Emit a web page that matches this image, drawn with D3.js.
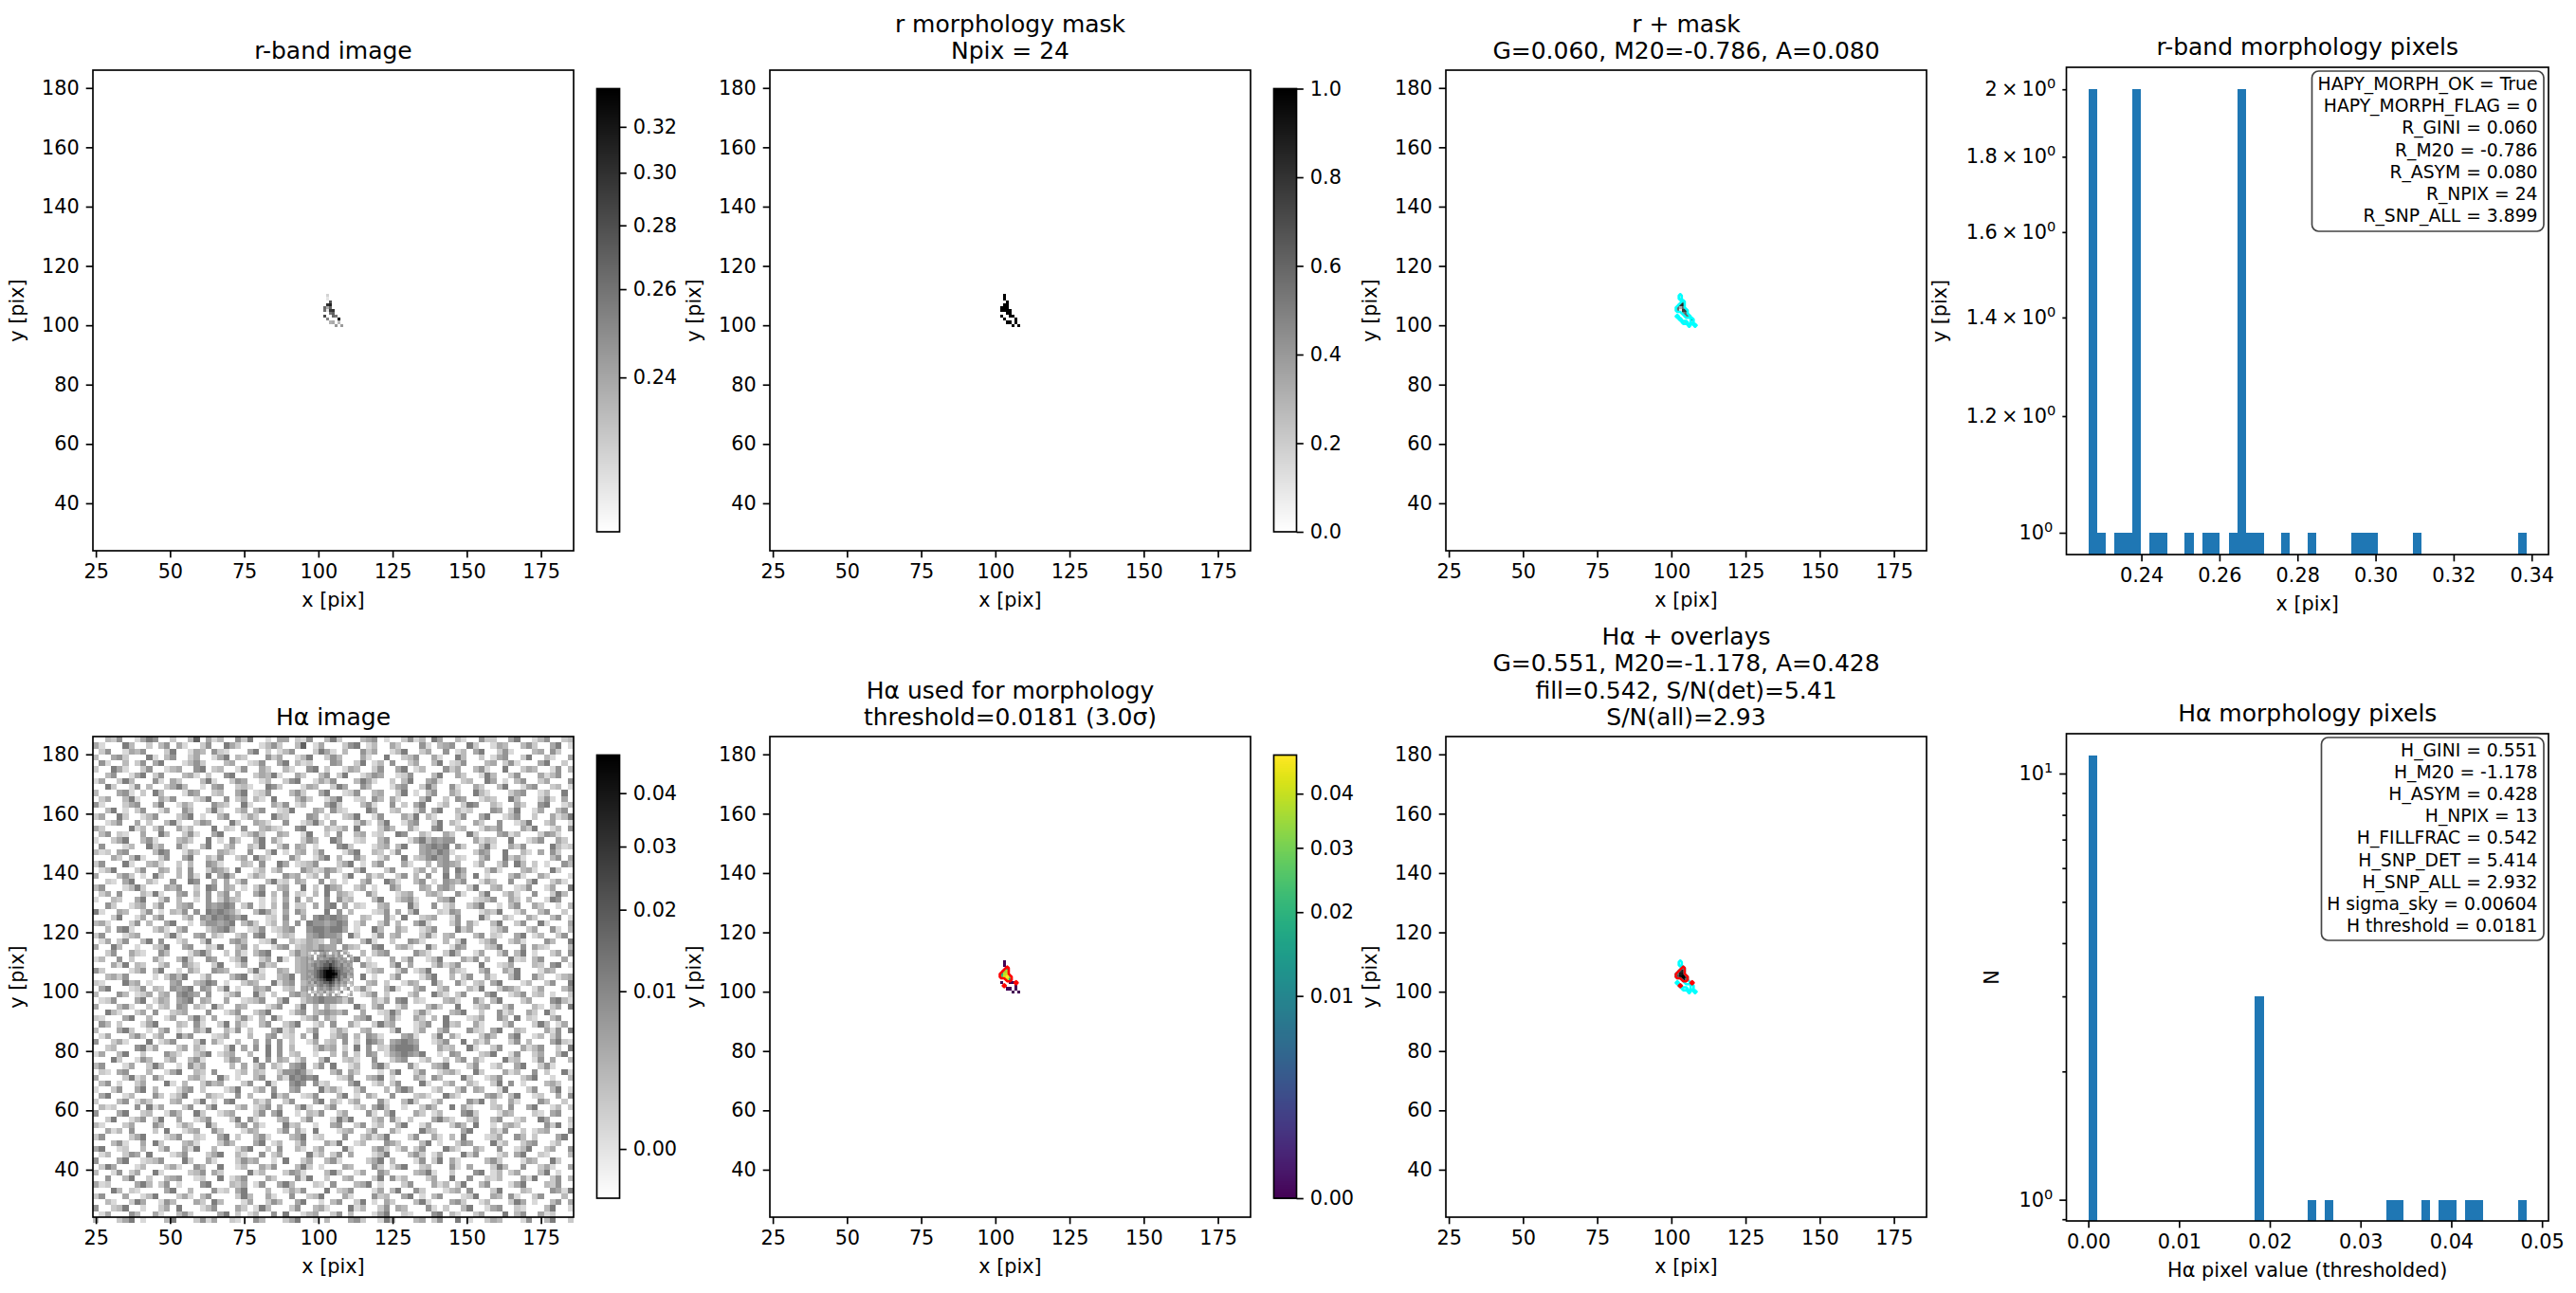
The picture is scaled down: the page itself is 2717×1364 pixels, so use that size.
<!DOCTYPE html>
<html>
<head>
<meta charset="utf-8">
<script src="https://cdn.jsdelivr.net/npm/d3@7"></script>
<style>
    body { margin: 0; background: #fff; }
    text { font-family: "DejaVu Sans"; fill: #000; }
</style>
</head>
<body>
<svg id="fig" width="2717" height="1364"></svg>
<script>
// Data ------------------------------------------------------------------------------------

const imageXTicks = [25, 50, 75, 100, 125, 150, 175];
const imageYTicks = [40, 60, 80, 100, 120, 140, 160, 180];
const imageLimits = [24, 186];

// pixels of the r morphology mask
const maskX = [103, 103, 104, 103, 104, 102, 103, 104, 102, 103, 104, 105, 104, 105, 102, 105, 106, 103, 107, 104, 105, 107, 106, 108];
const maskY = [110, 109, 108, 107, 107, 106, 106, 106, 105, 105, 105, 105, 104, 104, 103, 103, 103, 102, 102, 101, 101, 101, 100, 100];
const rValues = [0.2298, 0.2275, 0.2769, 0.2994, 0.3106, 0.2657, 0.2388, 0.268, 0.2635, 0.2275, 0.2949, 0.2971, 0.259, 0.2702, 0.2836, 0.2657, 0.2568, 0.2523, 0.3375, 0.2365, 0.2388, 0.2343, 0.2455, 0.2433];
const hValues = [0, 0, 0.019, 0.0345, 0.0375, 0.019, 0.0395, 0.0425, 0.0247, 0.0435, 0.048, 0.0335, 0.0405, 0.019, 0, 0, 0, 0.0265, 0, 0, 0, 0, 0, 0];
// above threshold but outside the r mask
const hExtraX = [107];
const hExtraY = [103];

const rHistCounts = [2, 1, 0, 1, 1, 2, 0, 1, 1, 0, 0, 1, 0, 1, 1, 0, 1, 2, 1, 1, 0, 0, 1, 0, 0, 1, 0, 0, 0, 0, 1, 1, 1, 0, 0, 0, 0, 1, 0, 0, 0, 0, 0, 0, 0, 0, 0, 0, 0, 1];
const rHistRange = [0.2264, 0.3387];
const hHistCounts = [11, 0, 0, 0, 0, 0, 0, 0, 0, 0, 0, 0, 0, 0, 0, 0, 0, 0, 0, 3, 0, 0, 0, 0, 0, 1, 0, 1, 0, 0, 0, 0, 0, 0, 1, 1, 0, 0, 1, 0, 1, 1, 0, 1, 1, 0, 0, 0, 0, 1];
const hHistRange = [0, 0.0483];

const rStats = ["HAPY_MORPH_OK = True", "HAPY_MORPH_FLAG = 0", "R_GINI = 0.060", "R_M20 = -0.786", "R_ASYM = 0.080", "R_NPIX = 24", "R_SNP_ALL = 3.899"];
const hStats = ["H_GINI = 0.551", "H_M20 = -1.178", "H_ASYM = 0.428", "H_NPIX = 13", "H_FILLFRAC = 0.542", "H_SNP_DET = 5.414", "H_SNP_ALL = 2.932", "H sigma_sky = 0.00604", "H threshold = 0.0181"];

const rNorm = [0.2264, 0.3385];
const hNorm = [-0.0006, 0.048];
const rBarTicks = [0.24, 0.26, 0.28, 0.30, 0.32];
const hBarTicks = [0, 0.01, 0.02, 0.03, 0.04];
const maskBarTicks = [0, 0.2, 0.4, 0.6, 0.8, 1];

// Hα image brightness levels used by the two digit grids below
const hLevels = [-0.002, 0.0005, 0.0015, 0.003, 0.005, 0.008, 0.012, 0.018, 0.027, 0.04, 0.048];

// Hα image: hand estimate of the noise in cells of 2 pix, top row first, groups of 10 cells.
// Only the blotches and the overall texture follow the picture, single cells are not exact readings.
const hCoarseRows = [
"0032500146 5002003704 1300526001 0440215003 6200034501 0025130640 0310052200 4600135002 3",
"4100063002 0350410025 0064200013 5200370140 0025601300 4200051034 5006200143 0035200460 1",
"0250014350 0026001430 5210004602 0135000264 1030052400 1360024005 0130460025 1000340520 0",
"3004520006 1035002400 1460320005 2400136002 5300041006 0023500410 0630020145 0026003100 4",
"0510030250 4600013520 0034001250 0460312000 5400260130 5002400360 1250003402 5100046002 0",
"2006410025 0013400560 2300150042 0031005602 0014300250 0460130005 2400351006 0024300150 3",
"0035001460 2500034102 0056000243 6100420035 0260013540 0125000360 0420016300 2500041350 0",
"1400263000 5104200036 1002540013 0025600142 5000364100 2036004510 0023006401 0350024000 5",
"0062001503 0024630010 4500231006 5200014300 2640053000 1450026300 5100420036 0014500230 1",
"3000451020 6300015400 2300460125 0003520046 0012500340 0260103500 4200631000 2450013006 0",
"0240036100 0425000136 0050240310 6000352001 4600120530 4100036002 0540013200 6300025104 0",
"5100024500 3600142000 5320061000 4250130004 6200035100 5020460013 0026500310 0420056001 3",
"0036010250 0140053002 6100240350 0126000430 5210006400 2300150460 0312000540 2600140035 0",
"2400620013 5000246010 0350014200 6320005401 0023600150 0042603100 0250046001 3500200413 6",
"0013500402 0036100254 0006200431 0050013620 4000251036 0014500260 3100420050 0136002400 1",
"4200006130 2500413000 6021050034 2100560003 1240600025 3004100560 0230014350 0042600130 5",
"0350210040 0630025100 4600013520 0430016002 0500340120 0650031004 2006200045 1300025410 0",
"1002460035 1000342006 0105200360 4100025300 6400120035 0001463545 5000413200 6001350042 0",
"0500013006 2400510036 0024003160 0250430100 0562000134 0360045656 0520036100 4250000631 2",
"3120450000 3650014200 0431005002 6010340250 0014600320 1500045465 1000254006 0031040520 0",
"0004203610 0250046003 1500240631 0005200146 0300520014 0060235645 0210035006 2410000350 4",
"2500061003 4100203005 4100032050 0640123500 0246010350 0041003045 4300140025 0630201005 3",
"0136000250 0430305002 5420600130 2400053125 4100360002 5000240305 0640002510 0034100620 0",
"4000352010 6200305106 0463001420 0053401305 0026004130 0250305006 0530601000 3510042000 1",
"0021046003 1005006500 4040250003 6120430050 2010035006 4100350105 4350014200 5003600241 0",
"3500013620 0043500206 5043010250 0340060206 4300240100 5300043045 3002600340 0125001400 6",
"0240500031 6100450305 0350300460 3050210306 0431005200 0134003420 0510036002 4100500263 0",
"1003200460 0250300105 0253200010 2040503005 0523000360 0245100034 6000123500 4203001650 0",
"0052001340 2500345005 4565025010 3050220405 6040210034 0006200501 3002460010 3500420010 3",
"6100430025 0103250506 5654100364 1040530006 0503000125 0403600021 5400013260 0140035002 0",
"0002600140 3500024054 6565460001 2050040565 6540032005 1060023400 1500062003 1004200350 1",
"3410002503 0046001035 5456035201 3040506554 5650140025 0300461000 2504100360 0250061000 4",
"0030561000 2410350002 4563001250 1245005665 6640100630 0420013500 0624000135 0002400510 3",
"2500013400 0026100450 3100240560 0132004565 5406200150 3400025103 4000350210 0460130025 0",
"0140250036 0500130026 0004530012 6003124320 4500036100 2005410003 0260013500 2410005300 6",
"4006300100 2360045002 1600350200 1450234354 4053200560 0341006200 1540002360 0050421000 3",
"0025004210 0530001463 0020410356 0002534565 4530030245 0000531002 6300140025 0360100240 5",
"1300502000 4100362005 4001360024 0610345456 5403601000 4025001360 0042503000 6120350004 0",
"0004160320 0240053100 2600140052 3000345545 5450052100 3604000251 3500060012 4000320560 1",
"5200001350 3600104200 5430002610 0430345005 0564001340 0250136000 4210035004 2600014300 0",
"0034250000 1025360014 0003560120 0346045005 0545060100 2500014600 3025004100 3600520013 4",
"2100063401 0004500346 5010024300 6145034505 0654003402 0014300620 0510230460 0013002500 6",
"0460001250 3205456054 0260100435 0023045405 5640251003 6100350024 0003160025 4200140003 5",
"3000530124 0340565405 0013500620 2004534565 5640013502 0002400631 0250004600 1350230100 2",
"0125000460 1430456043 0040012350 0360024565 5425000314 0560210003 4100520360 0024000563 1",
"4000351002 0230540310 6200430001 3500260304 1000620350 0140003520 0600134002 5000310240 6",
"0063100240 5002340005 0013500246 0001450345 4350040012 6300251000 3460020051 3004206100 0",
"2100046003 0014003620 4000251030 6200013504 2000346002 5100420306 0001240053 0602100350 0",
"0530200014 6000320510 0260410035 0024600130 5004100263 4000135006 2300410002 5000263014 0",
"3000462001 0350100426 0031502000 4613002500 1420034000 2600140035 0005210460 0320004150 6",
"0140003520 2400635000 1240003004 5012040600 2450305410 0045100260 4100025300 4600130250 0",
"5002410006 0135000260 4100300405 0502001402 3050206530 4565400135 0060314000 2503000462 1",
"0023000561 4000240310 0026040506 0503000253 4020605021 5666500042 3006100250 0041350020 6",
"1400360020 0053100246 0134003006 0502300100 3040205401 4565460010 5400023600 1500240036 0",
"0006200153 0024003510 0025400605 0430140036 0023100500 2450013002 0350410006 2300150400 3",
"3500014002 6300105240 0003040250 3104560250 6001300462 0005100346 0002500130 0460025100 0",
"0210450003 0014600320 5000130320 0255651000 3504200010 3600250013 4100620004 1300502006 1",
"4000026130 5200003410 0620100350 0416565600 0125003460 1000420530 0062001350 0024600100 3",
"0350100240 0061030025 3400025006 1005650512 0004600130 2500061002 4003100260 5010003420 0",
"1002500460 3000145020 0013600240 5004500062 4100250003 0464000130 0250430016 0002500360 1",
"0460013000 5201360004 2100503000 6240012500 0360104200 5000231006 3100004520 3600120040 5",
"2000350142 0003400260 1056000314 0025000460 3102400051 0036200140 0005360200 4100053002 0",
"0312000506 1400025003 6000240135 0400361002 5000130462 0010025300 6041000230 5004600130 2",
"5000460023 0015300620 0134000250 4600103250 0240005103 6000420130 0056200014 3000210450 0",
"0026001350 2600400135 0002605100 0340025000 1636000240 5102000463 1002400350 0130064000 2",
"3100024000 5300142006 2000350410 0062300100 4500250130 0360014000 2530600103 4200005260 1",
"0041305000 2060013400 5200014300 0250410600 0134002500 4100063200 0046000315 0020134000 6",
"2500002460 0013500210 0460200351 0003460120 0050024136 0002500410 3060001240 0530200046 0",
"0003510040 6200034100 0253000460 1300250004 2600130005 4200036010 0254000613 0024500130 0",
"4600120030 0250041600 3000146002 0500310240 0061000352 0140250006 3100420050 0136002400 5",
"0130025406 0001350002 4600310050 2400006130 2504000136 0003520140 0062500013 0460021000 3",
"5000460012 3500062004 1000253400 1060024003 5100002460 3000150260 4100003520 0014300620 0",
"0264000130 0024100530 0600130042 5000362010 0043000520 1460023000 5104000263 0050024100 4",
"3001502400 6100002350 4200006130 0025410003 6200140053 0000346100 2000560130 2400036010 0",
"0050036002 0034500120 0601350004 2000516002 0034000260 5130002400 6005002130 0041600250 3",
"4120000463 0250100056 0003240150 0463000210 5000346010 0025000413 0260035000 1460003250 0",
"0006302100 0046003000 5120460003 0014250006 0235000140 3600520001 3405000260 0032000541 6",
"2500040013 6000241035 0000263004 1005002360 0041000523 0046010350 0012600430 5100250003 0",
"0031002640 0153000420 6300014002 5300460010 3500260104 2000361000 4520013000 2640100350 4",
"5002360010 0240600013 5000420163 0002500341 0006130025 0430005102 0036001450 0210003600 1",
"0140005300 4100352000 0460201300 5060013400 2503000146 0021000560 3100240006 0350041200 0",
"3000246010 0036000251 4002100530 0024600103 0004520016 3000340250 0601002430 0015003600 2"
];

// Hα image around the core at native resolution: x 97..111, y 113..99, top row first
const hCoreX0 = 97;
const hCoreY0 = 113;
const hCoreRows = [
"203045304350420",
"340456445354053",
"450545566545404",
"345566767654545",
"456567787656454",
"446678898766545",
"556789aa9876554",
"456789aaa976645",
"546789aa9875634",
"455678998675440",
"536567787564523",
"443565676453402",
"350454564340250",
"032435243015003",
"405240350420014"
];

// Layout ------------------------------------------------------------------------------------

const svg = d3.select("#fig");
const tickFont = 20.8, titleFont = 25, boxFont = 18.75;
const tickLen = 7.3, minorLen = 4.2, lineW = 1.67;
const imgSize = 507;
const colLeft = [98, 812, 1525];
const rowTop = [74, 777];
const histLeft = 2179.5, histW = 508.5, histH = 514;
const histTop = [71, 774];

const grayR = t => d3.interpolateRgb("#ffffff", "#000000")(t);

// Helpers -----------------------------------------------------------------------------------

// sqrt stretch between vmin and vmax, value comes in shifted by vmin
function stretch(norm) {
    return d3.scaleSqrt().domain([0, norm[1] - norm[0]]).range([0, 1]).clamp(true);
}

function styleAxis(g) {
    g.select(".domain").remove();
    g.selectAll(".tick line").attr("stroke", "#000").attr("stroke-width", lineW);
    g.selectAll(".tick text").style("font-size", tickFont + "px").attr("font-family", "DejaVu Sans");
}

function frame(g, w, h) {
    g.append("rect").attr("width", w).attr("height", h)
        .attr("fill", "none").attr("stroke", "#000").attr("stroke-width", lineW);
}

function title(cx, baseline, lines) {
    lines.forEach(function (line, i) {
        svg.append("text").attr("x", cx).attr("y", baseline - (lines.length - 1 - i) * 28.4)
            .attr("text-anchor", "middle").style("font-size", titleFont + "px").text(line);
    });
}

function labels(g, w, h, xLabel, yLabel, yLabelX) {
    g.append("text").attr("x", w / 2).attr("y", h + 58.5).attr("text-anchor", "middle")
        .style("font-size", tickFont + "px").text(xLabel);
    g.append("text").attr("transform", "translate(" + yLabelX + "," + (h / 2) + ") rotate(-90)")
        .attr("text-anchor", "middle").style("font-size", tickFont + "px").text(yLabel);
}

function imageAxes(left, top, titleLines) {
    const g = svg.append("g").attr("transform", "translate(" + left + "," + top + ")");
    const x = d3.scaleLinear().domain(imageLimits).range([0, imgSize]);
    const y = d3.scaleLinear().domain(imageLimits).range([imgSize, 0]);
    title(left + imgSize / 2, top - 12, titleLines);
    return { g: g, x: x, y: y };
}

function finishImageAxes(ax) {
    ax.g.append("g").attr("transform", "translate(0," + imgSize + ")")
        .call(d3.axisBottom(ax.x).tickValues(imageXTicks).tickSize(tickLen).tickPadding(7).tickFormat(d3.format("d")))
        .call(styleAxis);
    ax.g.append("g")
        .call(d3.axisLeft(ax.y).tickValues(imageYTicks).tickSize(tickLen).tickPadding(7).tickFormat(d3.format("d")))
        .call(styleAxis);
    frame(ax.g, imgSize, imgSize);
    labels(ax.g, imgSize, imgSize, "x [pix]", "y [pix]", -73);
}

function drawCells(ax, cells, width, color) {
    ax.g.append("g").attr("shape-rendering", "crispEdges")
        .selectAll("rect").data(cells).enter().append("rect")
        .attr("x", d => ax.x(d.x - 0.5))
        .attr("y", d => ax.y(d.y + width - 0.5))
        .attr("width", ax.x(width) - ax.x(0))
        .attr("height", ax.x(width) - ax.x(0))
        .attr("fill", d => color(d.v));
}

// draws the outline of a set of pixels the way a 0.5 level contour of a binary image looks
function drawOutline(ax, xs, ys, color, width) {
    const x0 = d3.min(xs) - 2, y0 = d3.min(ys) - 2;
    const w = d3.max(xs) - x0 + 3, h = d3.max(ys) - y0 + 3;
    const grid = new Array(w * h).fill(0);
    xs.forEach(function (px, i) { grid[(ys[i] - y0) * w + (px - x0)] = 1; });
    const contour = d3.contours().size([w, h]).thresholds([0.5])(grid)[0];
    const path = d3.geoPath(d3.geoTransform({
        point: function (gx, gy) { this.stream.point(ax.x(x0 + gx - 0.5), ax.y(y0 + gy - 0.5)); }
    }));
    ax.g.append("path").attr("d", path(contour)).attr("fill", "none")
        .attr("stroke", color).attr("stroke-width", width).attr("stroke-linejoin", "round");
}

function colorbar(left, top, norm, ticks, color, format) {
    const barW = 24, barTop = top + 19.5, barH = 467.5;
    const g = svg.append("g").attr("transform", "translate(" + (left + 531.5) + "," + barTop + ")");
    const pos = d3.scaleLinear().domain([0, 1]).range([barH, 0]);
    g.append("g").attr("shape-rendering", "crispEdges")
        .selectAll("rect").data(d3.range(256)).enter().append("rect")
        .attr("y", d => pos((d + 1) / 256)).attr("width", barW)
        .attr("height", barH / 256 + 0.6).attr("fill", d => color(d / 255));
    const s = norm.sqrt
        ? stretch(norm.range).range([barH, 0])
        : d3.scaleLinear().domain([0, norm.range[1] - norm.range[0]]).range([barH, 0]);
    g.append("g").attr("transform", "translate(" + barW + ",0)")
        .call(d3.axisRight(s).tickValues(ticks.map(t => t - norm.range[0]))
            .tickSize(tickLen).tickPadding(7).tickFormat(d => format(d + norm.range[0])))
        .call(styleAxis);
    frame(g, barW, barH);
}

function statsBox(g, lines, boxX, boxY, boxW, boxH, textX, firstY, step) {
    g.append("rect").attr("x", boxX).attr("y", boxY).attr("width", boxW).attr("height", boxH)
        .attr("rx", 7).attr("fill", "#fff").attr("fill-opacity", 0.85)
        .attr("stroke", "#444").attr("stroke-width", lineW);
    lines.forEach(function (line, i) {
        g.append("text").attr("x", textX).attr("y", firstY + i * step).attr("text-anchor", "end")
            .style("font-size", boxFont + "px").text(line);
    });
}

function logLabel(sel, mantissa) {
    sel.each(function (d) {
        const t = d3.select(this).text("");
        const m = mantissa(d);
        t.append("tspan").text(m.text);
        t.append("tspan").attr("dy", -8).style("font-size", "14.6px").text(m.power);
    });
}

function histogram(rowIndex, counts, range, xTicks, yDomain, major, minor, labelled, xFormat, xLabel, yLabel, yLabelX, titleText) {
    const top = histTop[rowIndex];
    const g = svg.append("g").attr("transform", "translate(" + histLeft + "," + top + ")");
    const margin = (range[1] - range[0]) * 0.05;
    const x = d3.scaleLinear().domain([range[0] - margin, range[1] + margin]).range([0, histW]);
    const y = d3.scaleLog().domain(yDomain).range([histH, 0]);
    const binW = (range[1] - range[0]) / counts.length;
    title(histLeft + histW / 2, top - 13, [titleText]);

    g.append("g").attr("shape-rendering", "crispEdges")
        .selectAll("rect").data(counts.map((c, i) => ({ c: c, i: i })).filter(d => d.c > 0)).enter().append("rect")
        .attr("x", d => x(range[0] + d.i * binW))
        .attr("width", x(binW) - x(0))
        .attr("y", d => y(d.c))
        .attr("height", d => histH - y(d.c))
        .attr("fill", "#1f77b4");

    g.append("g").attr("transform", "translate(0," + histH + ")")
        .call(d3.axisBottom(x).tickValues(xTicks).tickSize(tickLen).tickPadding(7).tickFormat(xFormat))
        .call(styleAxis);
    const yAxisMinor = g.append("g")
        .call(d3.axisLeft(y).tickValues(minor).tickSize(minorLen).tickPadding(7).tickFormat(""))
        .call(styleAxis);
    const yAxisMajor = g.append("g")
        .call(d3.axisLeft(y).tickValues(major).tickSize(tickLen).tickPadding(7).tickFormat(""))
        .call(styleAxis);
    yAxisMinor.selectAll(".tick").filter(d => labelled.includes(d)).select("text").call(logLabel, d => ({ text: d + "\u2009\u00d7\u200910", power: "0" }));
    yAxisMajor.selectAll(".tick text").call(logLabel, d => ({ text: "10", power: String(Math.round(Math.log10(d))) }));
    frame(g, histW, histH);
    labels(g, histW, histH, xLabel, yLabel, yLabelX);
    return g;
}

// Panels ------------------------------------------------------------------------------------

const maskCells = maskX.map((px, i) => ({ x: px, y: maskY[i], r: rValues[i], h: hValues[i] }));
const rStretch = stretch(rNorm);
const hStretch = stretch(hNorm);
const hMorphStretch = stretch([0, hNorm[1]]);
const hDetX = maskX.filter((px, i) => hValues[i] > 0).concat(hExtraX);
const hDetY = maskY.filter((py, i) => hValues[i] > 0).concat(hExtraY);

function drawTopRow() {
    const rCells = maskCells.map(d => ({ x: d.x, y: d.y, v: d.r }));
    const rColor = v => grayR(rStretch(v - rNorm[0]));

    const a = imageAxes(colLeft[0], rowTop[0], ["r-band image"]);
    drawCells(a, rCells, 1, rColor);
    finishImageAxes(a);
    colorbar(colLeft[0], rowTop[0], { range: rNorm, sqrt: true }, rBarTicks, grayR, d3.format(".2f"));

    const b = imageAxes(colLeft[1], rowTop[0], ["r morphology mask", "Npix = 24"]);
    drawCells(b, rCells.map(d => ({ x: d.x, y: d.y, v: 1 })), 1, grayR);
    finishImageAxes(b);
    colorbar(colLeft[1], rowTop[0], { range: [0, 1], sqrt: false }, maskBarTicks, grayR, d3.format(".1f"));

    const c = imageAxes(colLeft[2], rowTop[0], ["r + mask", "G=0.060, M20=-0.786, A=0.080"]);
    drawCells(c, rCells, 1, rColor);
    drawOutline(c, maskX, maskY, "#00ffff", 2.6);
    finishImageAxes(c);

    const g = histogram(0, rHistCounts, rHistRange, [0.24, 0.26, 0.28, 0.30, 0.32, 0.34],
        [0.9665, 2.07], [1], [1.2, 1.4, 1.6, 1.8, 2], [1.2, 1.4, 1.6, 1.8, 2],
        d3.format(".2f"), "x [pix]", "y [pix]", -127, "r-band morphology pixels");
    statsBox(g, rStats, 259, 4, 244.5, 169, 497, 24, 23.2);
}

function drawBottomRow() {
    const hColor = v => grayR(hStretch(v - hNorm[0]));

    const a = imageAxes(colLeft[0], rowTop[1], ["H\u03b1 image"]);
    const coarse = [];
    hCoarseRows.forEach(function (row, j) {
        row.replace(/ /g, "").split("").forEach(function (ch, i) {
            coarse.push({ x: imageLimits[0] + 0.5 + i * 2, y: imageLimits[1] - 1.5 - j * 2, v: hLevels[parseInt(ch, 16)] });
        });
    });
    drawCells(a, coarse.filter(d => d.v > hNorm[0]), 2, hColor);
    const core = [];
    hCoreRows.forEach(function (row, j) {
        row.split("").forEach(function (ch, i) {
            core.push({ x: hCoreX0 + i, y: hCoreY0 - j, v: hLevels[parseInt(ch, 16)] });
        });
    });
    drawCells(a, core, 1, hColor);
    finishImageAxes(a);
    colorbar(colLeft[0], rowTop[1], { range: hNorm, sqrt: true }, hBarTicks, grayR, d3.format(".2f"));

    const b = imageAxes(colLeft[1], rowTop[1], ["H\u03b1 used for morphology", "threshold=0.0181 (3.0\u03c3)"]);
    const hCells = maskCells.map(d => ({ x: d.x, y: d.y, v: d.h }));
    drawCells(b, hCells, 1, v => d3.interpolateViridis(hMorphStretch(v)));
    drawOutline(b, hDetX, hDetY, "#ff0000", 2.6);
    finishImageAxes(b);
    colorbar(colLeft[1], rowTop[1], { range: [0, hNorm[1]], sqrt: true }, hBarTicks, d3.interpolateViridis, d3.format(".2f"));

    const c = imageAxes(colLeft[2], rowTop[1], ["H\u03b1 + overlays", "G=0.551, M20=-1.178, A=0.428", "fill=0.542, S/N(det)=5.41", "S/N(all)=2.93"]);
    drawCells(c, hCells.filter(d => d.v > 0), 1, hColor);
    drawOutline(c, maskX, maskY, "#00ffff", 2.6);
    drawOutline(c, hDetX, hDetY, "#ff0000", 2.6);
    finishImageAxes(c);

    const g = histogram(1, hHistCounts, hHistRange, [0, 0.01, 0.02, 0.03, 0.04, 0.05],
        [0.8917, 12.4], [1, 10], [0.9, 2, 3, 4, 5, 6, 7, 8, 9], [],
        d3.format(".2f"), "H\u03b1 pixel value (thresholded)", "N", -72, "H\u03b1 morphology pixels");
    statsBox(g, hStats, 269, 4, 234.5, 214, 497, 24, 23.1);
}

drawTopRow();
drawBottomRow();
</script>
</body>
</html>
